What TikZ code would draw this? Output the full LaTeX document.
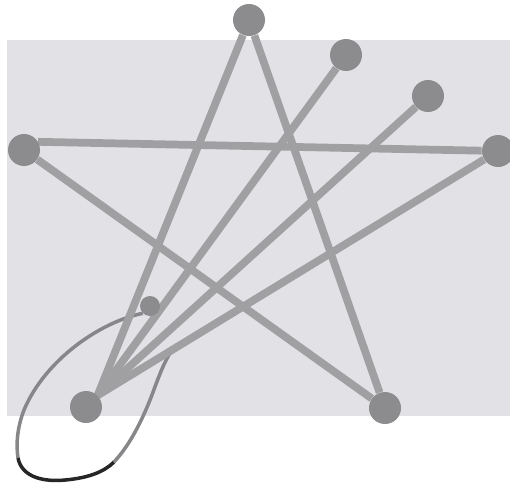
\documentclass[tikz,border=0pt]{standalone}
\usepackage{tikz}

\definecolor{bggray}{RGB}{226,226,230}
\definecolor{ballgray}{RGB}{140,140,142}
\definecolor{stickgray}{RGB}{160,160,163}
\definecolor{wiregray}{RGB}{135,135,138}

\pgfdeclarelayer{back}
\pgfdeclarelayer{sticks}
\pgfsetlayers{back,sticks,main}

\begin{document}
\begin{tikzpicture}[x=0.02cm, y=-0.02cm,
    ball/.style={circle, fill=ballgray, inner sep=0pt, minimum size=0.64cm},
    stick/.style={stickgray, line width=4.4pt},
    wire/.style={wiregray, line width=2pt},
    darkwire/.style={black!85, line width=2pt}]
    
    % Picture size
    \useasboundingbox (0,0) rectangle (510,487);
    
    % =========================================================================
    % Backdrop
    % =========================================================================
    \begin{pgfonlayer}{back}
    \fill[bggray] (7,40) rectangle (510,416);
    \end{pgfonlayer}
    
    % =========================================================================
    % Balls
    % =========================================================================
    \node[ball] (top)   at (249,20)  {};
    \node[ball] (upA)   at (346,55)  {};
    \node[ball] (upB)   at (428,96)  {};
    \node[ball] (left)  at (24,150)  {};
    \node[ball] (right) at (498,151) {};
    \node[ball] (botL)  at (86,407)  {};
    \node[ball] (botR)  at (385,408) {};
    \node[ball, minimum size=0.4cm] (knob) at (150,306) {};
    
    % Wire ends
    \coordinate (lpA) at (18,458);
    \coordinate (lpB) at (114,462);
    \coordinate (loopend) at (172,350);
    
    \begin{pgfonlayer}{sticks}
    % =========================================================================
    % Wire loop
    % =========================================================================
    \draw[wire] (knob.south west) .. controls (100,322) and (45,360) .. (24,410)
        .. controls (17,428) and (16,445) .. (lpA);
    \draw[darkwire] (lpA) .. controls (22,478) and (45,482) .. (65,480)
        .. controls (88,478) and (104,472) .. (lpB);
    \draw[wire] (lpB) .. controls (130,445) and (142,420) .. (150,400)
        .. controls (156,385) and (162,365) .. (loopend);
    
    % =========================================================================
    % Sticks
    % =========================================================================
    \draw[stick] (top) -- (botL.north east);
    \draw[stick] (top) -- (botR);
    \draw[stick] (left.30) -- (right);
    \draw[stick] (left) -- (botR);
    \draw[stick] (right) -- (botL.north east);
    \draw[stick] (upA) -- (botL.north east);
    \draw[stick] (upB) -- (botL.north east);
    \end{pgfonlayer}
    
\end{tikzpicture}
\end{document}
